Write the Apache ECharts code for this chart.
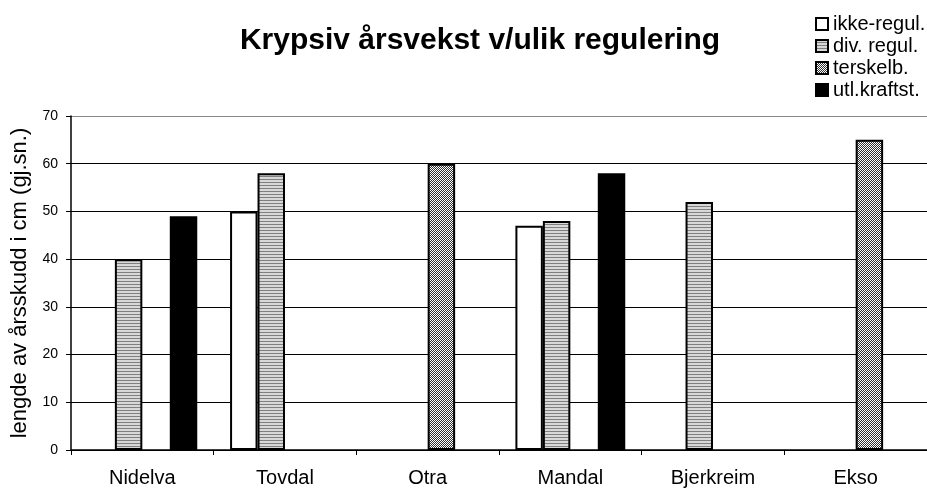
<!DOCTYPE html>
<html>
<head>
<meta charset="utf-8">
<script src="https://cdn.jsdelivr.net/npm/echarts@6/dist/echarts.min.js"></script>
<style>
  html, body { margin: 0; padding: 0; background: #fff; }
  #chart { width: 927px; height: 488px; }
</style>
</head>
<body>
<div id="chart"></div>
<script>
const categories = ['Nidelva', 'Tovdal', 'Otra', 'Mandal', 'Bjerkreim', 'Ekso']
const seriesNames = ['ikke-regul.', 'div. regul.', 'terskelb.', 'utl.kraftst.']
const ikkeRegul = [null, 50, null, 47, null, null]
const divRegul = [40, 58, null, 48, 52, null]
const terskelb = [null, null, 60, null, null, 65]
const utlKraftst = [49, null, null, 58, null, null]
const yTicks = [0, 10, 20, 30, 40, 50, 60, 70]

// fill patterns
function stripePattern () {
  const c = document.createElement('canvas')
  c.width = 4
  c.height = 3
  const ctx = c.getContext('2d')
  ctx.fillStyle = '#d8d8d8'
  ctx.fillRect(0, 0, 4, 3)
  ctx.fillStyle = '#808080'
  ctx.fillRect(0, 2, 4, 1)
  return { image: c, repeat: 'repeat' }
}
function hatchPattern () {
  const c = document.createElement('canvas')
  c.width = 4
  c.height = 4
  const ctx = c.getContext('2d')
  ctx.fillStyle = '#ffffff'
  ctx.fillRect(0, 0, 4, 4)
  ctx.fillStyle = '#303030'
  for (let i = 0; i < 4; i++) {
    ctx.fillRect(3 - i, i, 1, 1)
    ctx.fillRect((5 - i) % 4, i, 1, 1)
  }
  return { image: c, repeat: 'repeat' }
}

const fills = ['#ffffff', stripePattern(), hatchPattern(), '#000000']
const values = [ikkeRegul, divRegul, terskelb, utlKraftst]

const chart = echarts.init(document.getElementById('chart'), null, { renderer: 'canvas' })
const option = {
  animation: false,
  textStyle: { fontFamily: 'Liberation Sans, Arial, sans-serif', color: '#000' },
  title: {
    text: 'Krypsiv årsvekst v/ulik regulering',
    left: 475,
    textAlign: 'center',
    top: 21,
    textStyle: { fontSize: 30, fontWeight: 'bold', color: '#000', fontFamily: 'Liberation Sans, Arial, sans-serif' }
  },
  legend: {
    orient: 'vertical',
    left: 810,
    top: 8,
    itemWidth: 12,
    itemHeight: 12,
    itemGap: 0,
    icon: 'rect',
    textStyle: { fontSize: 20, lineHeight: 22, color: '#000' },
    data: seriesNames
  },
  grid: { left: 71, top: 116, width: 859, height: 334 },
  xAxis: {
    type: 'category',
    data: categories,
    axisLine: { lineStyle: { color: '#000', width: 1.5 } },
    axisTick: { show: true, length: 5, lineStyle: { color: '#000' } },
    axisLabel: { fontSize: 20, color: '#000', margin: 18 }
  },
  yAxis: {
    type: 'value',
    min: yTicks[0],
    max: yTicks[yTicks.length - 1],
    interval: 10,
    name: 'lengde av årsskudd i cm (gj.sn.)',
    nameLocation: 'middle',
    nameGap: 40,
    nameTextStyle: { fontSize: 22, color: '#000' },
    axisLine: { show: true, lineStyle: { color: '#000', width: 1.5 } },
    axisTick: { show: true, inside: false, length: 5, lineStyle: { color: '#000' } },
    axisLabel: { fontSize: 14, color: '#000', margin: 13 },
    splitLine: {
      show: true,
      lineStyle: { color: ['#000', '#000', '#000', '#000', '#000', '#000', '#000', '#888'], width: 1 }
    }
  },
  series: seriesNames.map((name, i) => ({
    name: name,
    type: 'bar',
    data: values[i],
    barGap: '0%',
    barCategoryGap: '23%',
    itemStyle: { color: fills[i], borderColor: '#000', borderWidth: 2 }
  }))
}
chart.setOption(option)
</script>
</body>
</html>
